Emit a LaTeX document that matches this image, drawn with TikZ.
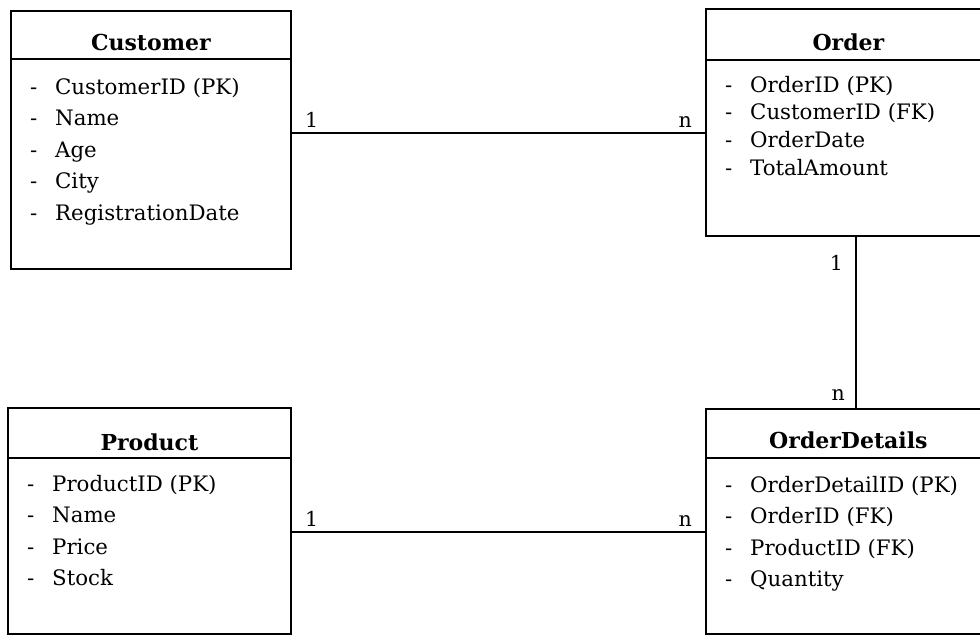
\documentclass[tikz,border=0pt]{standalone}
\usepackage{fontspec}
\setmainfont{DejaVu Serif}
\usetikzlibrary{calc}
\begin{document}
\begin{tikzpicture}[x=1pt,y=-1pt,
  entity/.style={draw, line width=1.8pt, anchor=north west, inner sep=0pt},
  headline/.style={line width=1.8pt},
  title/.style={font=\fontsize{22}{26}\selectfont\bfseries, anchor=base, inner sep=0pt},
  attr/.style={font=\fontsize{21.3}{25}\selectfont, anchor=base west, inner sep=0pt},
  card/.style={font=\fontsize{20.5}{24}\selectfont, inner sep=0pt},
  conn/.style={line width=1.8pt}]
\useasboundingbox (0,0) rectangle (980,635);
\clip (0,0) rectangle (980,635);

% entity boxes
\node[entity, minimum width=280pt, minimum height=258pt] (cust) at (10,10) {};
\node[entity, minimum width=285pt, minimum height=227pt] (ord) at (705,8) {};
\node[entity, minimum width=283pt, minimum height=226pt] (prod) at (7,407) {};
\node[entity, minimum width=285pt, minimum height=225pt] (od) at (705,408) {};

% header separators
\foreach \b/\h in {cust/49, ord/52, prod/51, od/50}
  \draw[headline] ($(\b.north west)+(0,\h)$) -- ($(\b.north east)+(0,\h)$);

% titles
\node[title] (custT) at ($(cust.north)+(0,40)$) {Customer};
\node[title] (ordT)  at ($(ord.north)+(0,42)$)  {Order};
\node[title] (prodT) at ($(prod.north)+(0,43)$) {Product};
\node[title] (odT)   at ($(od.north)+(0,40)$)   {OrderDetails};

% attribute lists
\foreach \b/\s/\list in {
  cust/31.5/{CustomerID (PK),Name,Age,City,RegistrationDate},
  ord/27.7/{OrderID (PK),CustomerID (FK),OrderDate,TotalAmount},
  prod/31.5/{ProductID (PK),Name,Price,Stock},
  od/31.5/{OrderDetailID (PK),OrderID (FK),ProductID (FK),Quantity}} {
  \foreach \a [count=\i from 0] in \list {
    \node[attr] (\b-d\i) at ($(\b.north west)+(20,84+\i*\s)$) {-};
    \node[attr] (\b-a\i) at ($(\b.north west)+(45,84+\i*\s)$) {\a};
  }
}

% relationships
\coordinate (r1) at (0,133);
\coordinate (r2) at (0,532);
\coordinate (v1) at (856,0);
\draw[conn] (cust.east |- r1) -- (ord.west |- r1);
\draw[conn] (ord.south -| v1) -- (od.north -| v1);
\draw[conn] (prod.east |- r2) -- (od.west |- r2);

% cardinalities
\node[card, anchor=base west] (c1) at (305,127) {1};
\node[card, anchor=base east] (c2) at (692,127) {n};
\node[card, anchor=base east] (c3) at (843,270) {1};
\node[card, anchor=base east] (c4) at (845,400) {n};
\node[card, anchor=base west] (c5) at (305,526) {1};
\node[card, anchor=base east] (c6) at (692,526) {n};
\end{tikzpicture}
\end{document}
